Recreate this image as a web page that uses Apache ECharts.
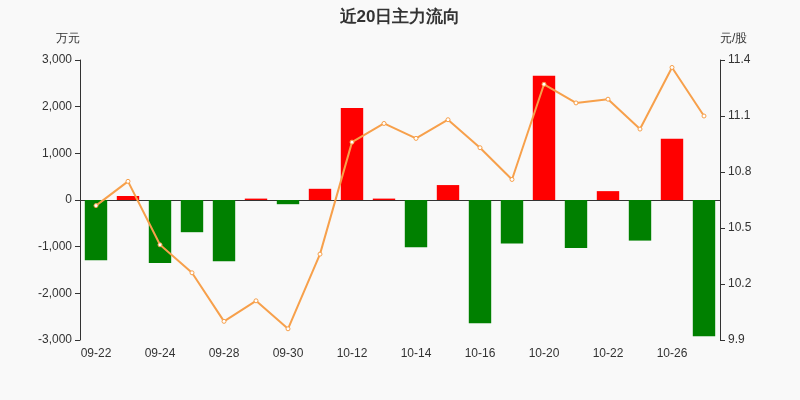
<!DOCTYPE html><html><head><meta charset="utf-8"><script src="https://cdn.jsdelivr.net/npm/echarts@6/dist/echarts.min.js"></script></head><body style="margin:0;background:#f9f9f9"><div id="c" style="width:800px;height:400px"></div><script>
const categories=['09-22','09-23','09-24','09-27','09-28','09-29','09-30','10-11','10-12','10-13','10-14','10-15','10-16','10-19','10-20','10-21','10-22','10-25','10-26','10-27'];
const flows=[-1290,86,-1350,-690,-1310,30,-90,240,1970,30,-1010,320,-2640,-930,2660,-1030,190,-870,1310,-2920];
const prices=[10.62,10.75,10.41,10.26,10.00,10.11,9.96,10.36,10.96,11.06,10.98,11.08,10.93,10.76,11.27,11.17,11.19,11.03,11.36,11.10];
const c=echarts.init(document.getElementById('c'));
c.setOption({backgroundColor:'#f9f9f9',
title:{text:'近20日主力流向',left:'center',top:4,textStyle:{fontSize:17,fontWeight:'bold',color:'#333'}},
grid:{left:80,right:80,top:60,bottom:60},
xAxis:{type:'category',data:categories,axisLabel:{interval:1,color:'#333',fontSize:12},axisTick:{show:false},axisLine:{lineStyle:{color:'#333'}}},
yAxis:[{type:'value',name:'万元',min:-3000,max:3000,interval:1000,nameTextStyle:{color:'#333',align:'right'},axisLine:{show:true,lineStyle:{color:'#333'}},axisTick:{show:true},splitLine:{show:false},axisLabel:{color:'#333',formatter:v=>v.toLocaleString('en-US')}},
{type:'value',name:'元/股',min:9.9,max:11.4,interval:0.3,nameTextStyle:{color:'#333',align:'left'},axisLine:{show:true,lineStyle:{color:'#333'}},axisTick:{show:true},splitLine:{show:false},axisLabel:{color:'#333',formatter:v=>v.toFixed(1)}}],
series:[{type:'bar',data:flows.map(v=>({value:v,itemStyle:{color:v>=0?'#ff0000':'#008000'}})),barWidth:'70%'},
{type:'line',yAxisIndex:1,data:prices,symbol:'circle',symbolSize:4,itemStyle:{color:'#fff',borderColor:'#f7a04b',borderWidth:1},lineStyle:{color:'#f7a04b',width:2}}]});
</script></body></html>
